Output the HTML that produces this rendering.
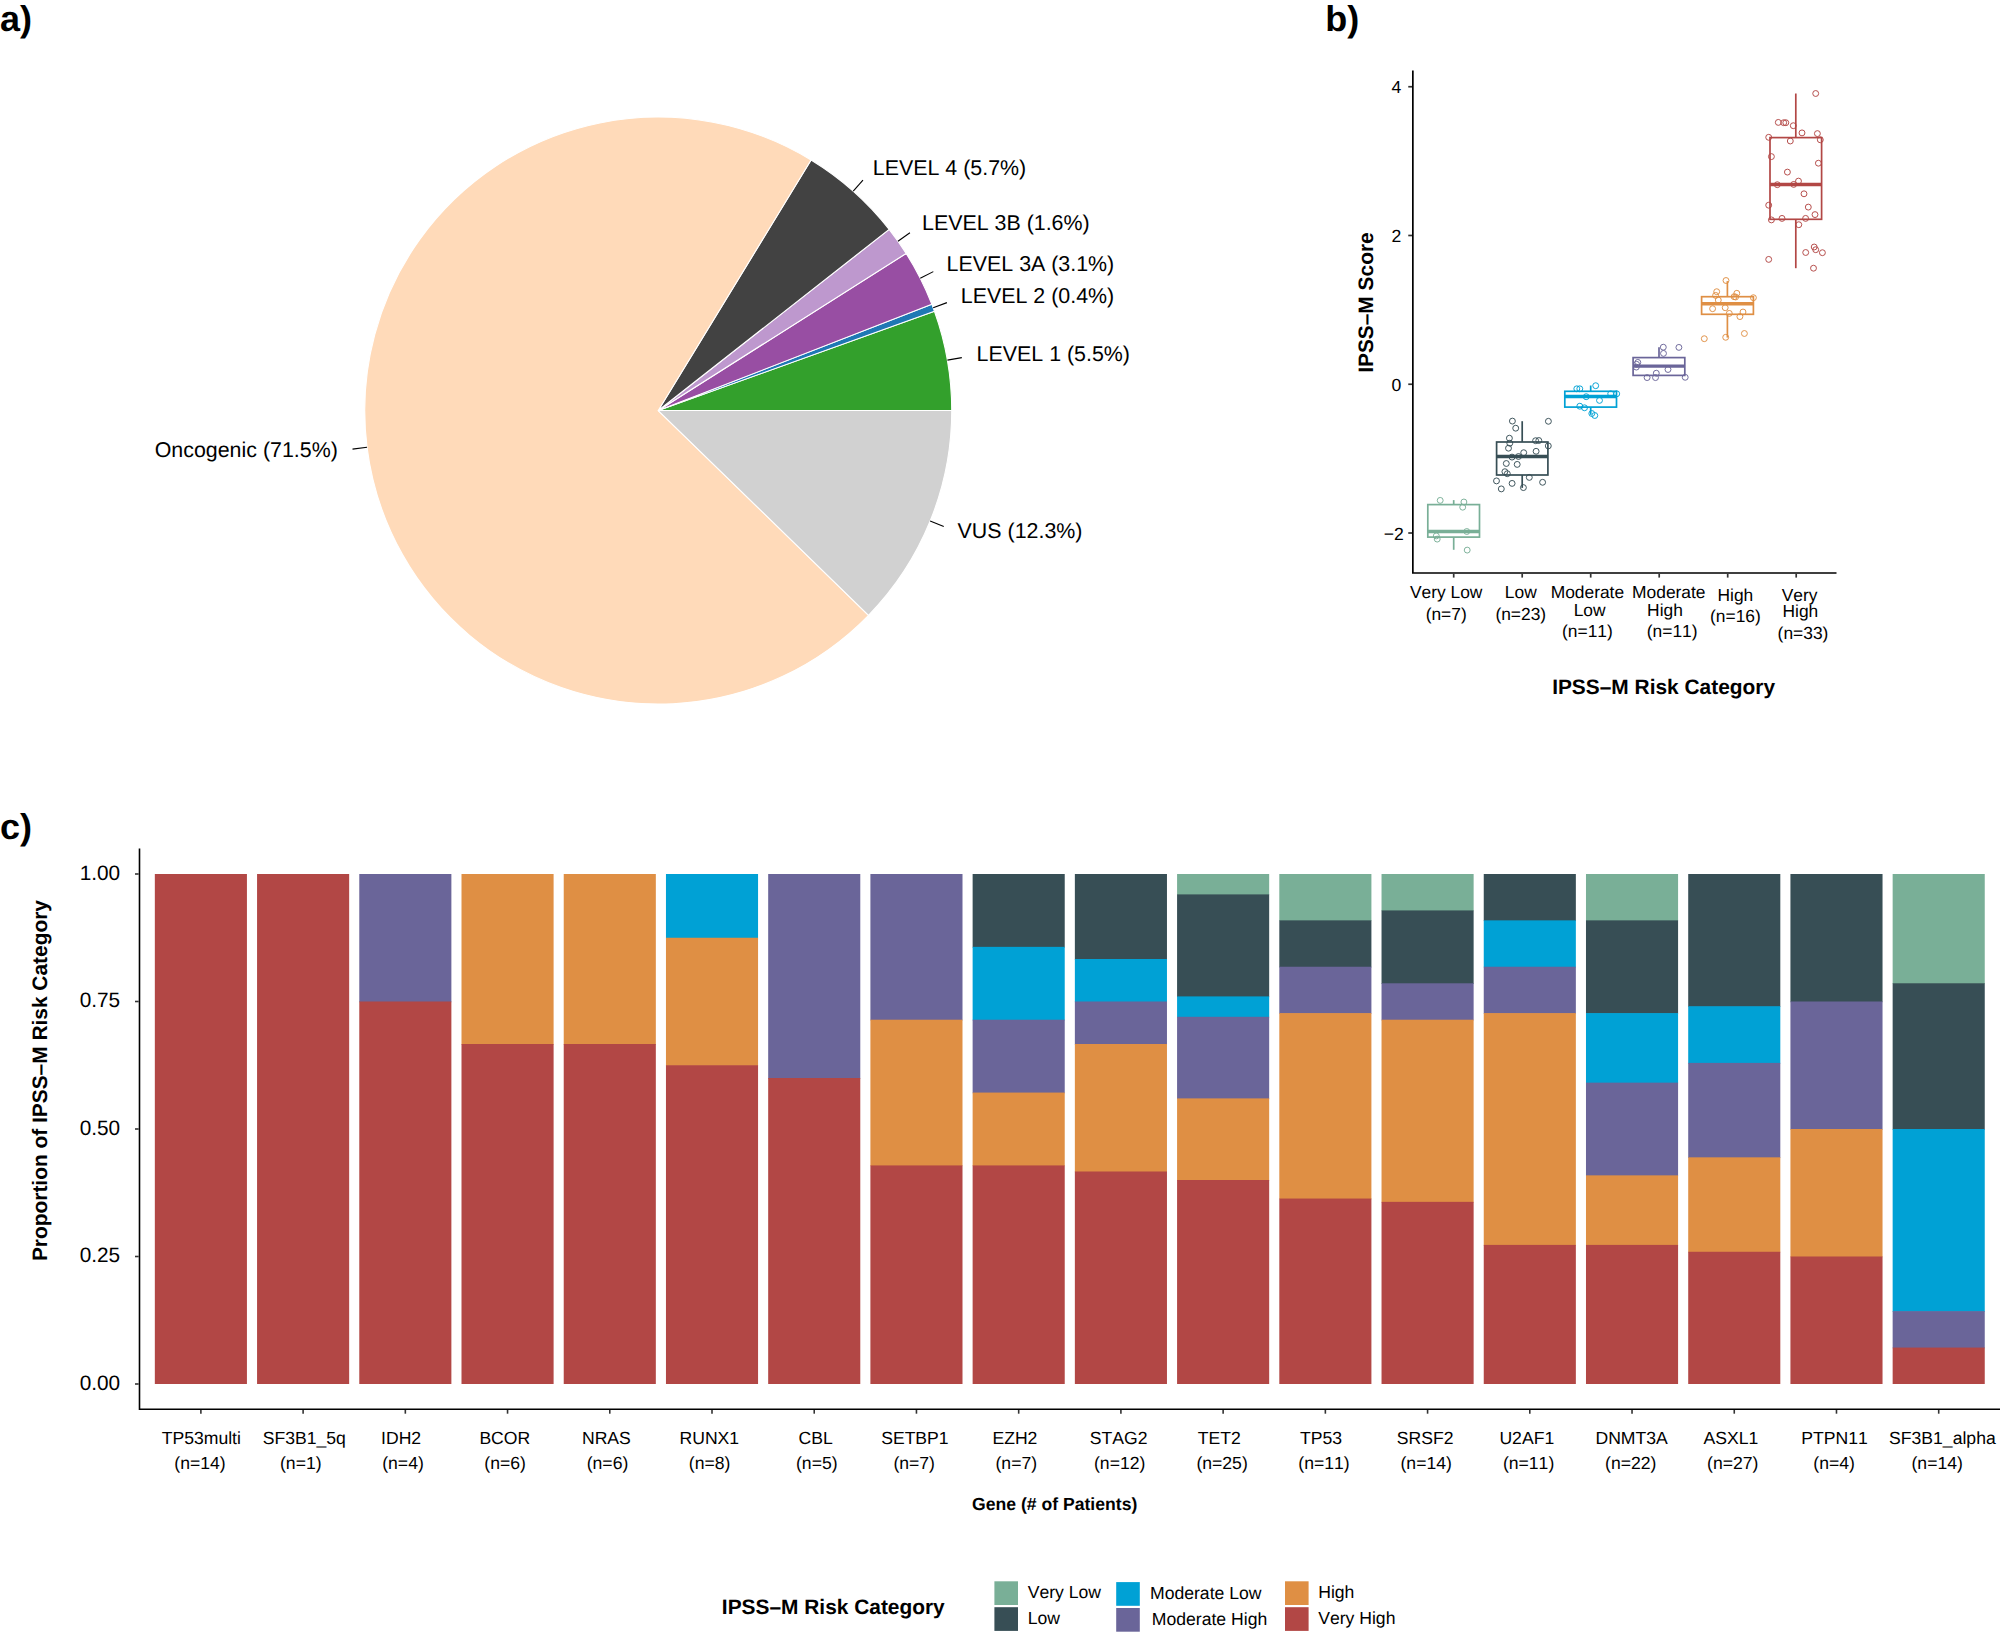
<!DOCTYPE html>
<html lang="en"><head><meta charset="utf-8"><title>Figure</title>
<style>
html,body{margin:0;padding:0;background:#fff;}
body{width:2000px;height:1640px;overflow:hidden;}
svg{display:block;font-family:"Liberation Sans", sans-serif;fill:#000;font-kerning:none;text-rendering:geometricPrecision;}
</style></head><body>
<svg width="2000" height="1640" viewBox="0 0 2000 1640">
<rect x="0" y="0" width="2000" height="1640" fill="#fff"/>
<text x="0" y="30.75" font-size="36" font-weight="bold">a)</text>
<text x="1325.3" y="30.75" font-size="36" font-weight="bold">b)</text>
<text x="0" y="838.75" font-size="36" font-weight="bold">c)</text>
<g stroke="#fff" stroke-width="1.1" stroke-linejoin="round">
<path d="M658.25,410.55L951.75,410.55A293.5,293.5 0 0 0 934.43,311.23Z" fill="#33A02C"/>
<path d="M658.25,410.55L934.43,311.23A293.5,293.5 0 0 0 931.85,304.32Z" fill="#1F78B4"/>
<path d="M658.25,410.55L931.85,304.32A293.5,293.5 0 0 0 906.15,253.42Z" fill="#984EA3"/>
<path d="M658.25,410.55L906.15,253.42A293.5,293.5 0 0 0 889.15,229.36Z" fill="#BE98CE"/>
<path d="M658.25,410.55L889.15,229.36A293.5,293.5 0 0 0 811.07,159.98Z" fill="#424242"/>
<path d="M658.25,410.55L811.07,159.98A293.5,293.5 0 1 0 868.54,615.30Z" fill="#FFDAB9"/>
<path d="M658.25,410.55L868.54,615.30A293.5,293.5 0 0 0 951.75,410.55Z" fill="#D1D1D1"/>
</g>
<g stroke="#000" stroke-width="1.1">
<line x1="947.39" y1="360.14" x2="961.85" y2="357.62"/>
<line x1="933.16" y1="307.77" x2="946.91" y2="302.63"/>
<line x1="920.24" y1="278.25" x2="933.34" y2="271.63"/>
<line x1="897.95" y1="241.18" x2="909.93" y2="232.71"/>
<line x1="853.22" y1="191.17" x2="862.97" y2="180.20"/>
<line x1="367.06" y1="447.30" x2="352.50" y2="449.14"/>
<line x1="930.15" y1="521.06" x2="943.75" y2="526.58"/>
</g>
<g font-size="21.4">
<text x="976.6" y="361.2" text-anchor="start">LEVEL 1 (5.5%)</text>
<text x="960.8" y="303.1" text-anchor="start">LEVEL 2 (0.4%)</text>
<text x="946.6" y="271.1" text-anchor="start">LEVEL 3A (3.1%)</text>
<text x="922.0" y="230.1" text-anchor="start">LEVEL 3B (1.6%)</text>
<text x="872.8" y="174.9" text-anchor="start">LEVEL 4 (5.7%)</text>
<text x="337.8" y="456.8" text-anchor="end">Oncogenic (71.5%)</text>
<text x="957.6" y="538.3" text-anchor="start">VUS (12.3%)</text>
</g>
<path d="M1412.85,70.5V573.0H1836.5" fill="none" stroke="#000" stroke-width="1.7" stroke-linejoin="miter"/>
<g stroke="#333" stroke-width="1.7">
<line x1="1408.25" x2="1412.05" y1="86.73" y2="86.73"/>
<line x1="1408.25" x2="1412.05" y1="235.49" y2="235.49"/>
<line x1="1408.25" x2="1412.05" y1="384.25" y2="384.25"/>
<line x1="1408.25" x2="1412.05" y1="533.01" y2="533.01"/>
<line x1="1453.7" x2="1453.7" y1="573.8" y2="577.6"/>
<line x1="1522.2" x2="1522.2" y1="573.8" y2="577.6"/>
<line x1="1590.7" x2="1590.7" y1="573.8" y2="577.6"/>
<line x1="1659.2" x2="1659.2" y1="573.8" y2="577.6"/>
<line x1="1727.7" x2="1727.7" y1="573.8" y2="577.6"/>
<line x1="1796.2" x2="1796.2" y1="573.8" y2="577.6"/>
</g>
<g font-size="17.6" text-anchor="end">
<text x="1401.2" y="93.33">4</text>
<text x="1401.2" y="242.09">2</text>
<text x="1401.2" y="390.85">0</text>
<text x="1403.7" y="539.61">−2</text>
</g>
<text transform="translate(1372.9,302.6) rotate(-90)" text-anchor="middle" font-size="20.9" font-weight="bold">IPSS–M Score</text>
<text x="1663.6" y="693.8" text-anchor="middle" font-size="20.9" font-weight="bold">IPSS–M Risk Category</text>
<g stroke="#79AF97" fill="none" stroke-width="1.7">
<line x1="1453.7" x2="1453.7" y1="500.1" y2="504.6"/>
<line x1="1453.7" x2="1453.7" y1="537.1" y2="549.8"/>
<rect x="1427.8" y="504.6" width="51.70" height="32.50"/>
<line x1="1427.8" x2="1479.5" y1="531.5" y2="531.5" stroke-width="3.4"/>
<g stroke-width="0.95">
<circle cx="1440.2" cy="500.4" r="2.95"/>
<circle cx="1463.9" cy="502" r="2.95"/>
<circle cx="1462.7" cy="507.2" r="2.95"/>
<circle cx="1466.8" cy="531.5" r="2.95"/>
<circle cx="1436.3" cy="535.9" r="2.95"/>
<circle cx="1437.2" cy="539.1" r="2.95"/>
<circle cx="1467.2" cy="550.1" r="2.95"/>
</g></g>
<g stroke="#374E55" fill="none" stroke-width="1.7">
<line x1="1522.2" x2="1522.2" y1="421.2" y2="442.0"/>
<line x1="1522.2" x2="1522.2" y1="475.0" y2="487.9"/>
<rect x="1496.6" y="442.0" width="51.30" height="33.00"/>
<line x1="1496.6" x2="1547.9" y1="456.5" y2="456.5" stroke-width="3.4"/>
<g stroke-width="0.95">
<circle cx="1512.4" cy="421.1" r="2.95"/>
<circle cx="1548.4" cy="421.3" r="2.95"/>
<circle cx="1515.7" cy="428.2" r="2.95"/>
<circle cx="1509.4" cy="438.2" r="2.95"/>
<circle cx="1535.6" cy="440.7" r="2.95"/>
<circle cx="1538.8" cy="440.5" r="2.95"/>
<circle cx="1509.8" cy="443.2" r="2.95"/>
<circle cx="1548.3" cy="445.9" r="2.95"/>
<circle cx="1508.5" cy="448.2" r="2.95"/>
<circle cx="1536.1" cy="451.3" r="2.95"/>
<circle cx="1523.7" cy="452.7" r="2.95"/>
<circle cx="1512" cy="457.1" r="2.95"/>
<circle cx="1518.5" cy="456.5" r="2.95"/>
<circle cx="1506.3" cy="463.5" r="2.95"/>
<circle cx="1517.2" cy="464.4" r="2.95"/>
<circle cx="1504.9" cy="471.7" r="2.95"/>
<circle cx="1507.3" cy="473.7" r="2.95"/>
<circle cx="1529.3" cy="477.4" r="2.95"/>
<circle cx="1496.5" cy="480.9" r="2.95"/>
<circle cx="1542.6" cy="482.3" r="2.95"/>
<circle cx="1512.1" cy="483.4" r="2.95"/>
<circle cx="1523.4" cy="487.6" r="2.95"/>
<circle cx="1501.3" cy="488.9" r="2.95"/>
</g></g>
<g stroke="#00A1D5" fill="none" stroke-width="1.7">
<line x1="1590.7" x2="1590.7" y1="385.5" y2="391.3"/>
<line x1="1590.7" x2="1590.7" y1="407.1" y2="414.8"/>
<rect x="1564.8" y="391.3" width="51.70" height="15.80"/>
<line x1="1564.8" x2="1616.5" y1="396.5" y2="396.5" stroke-width="3.4"/>
<g stroke-width="0.95">
<circle cx="1595.7" cy="385.7" r="2.95"/>
<circle cx="1576.8" cy="388.8" r="2.95"/>
<circle cx="1579.8" cy="388.8" r="2.95"/>
<circle cx="1610.7" cy="393.8" r="2.95"/>
<circle cx="1616.7" cy="393.8" r="2.95"/>
<circle cx="1586.2" cy="396.7" r="2.95"/>
<circle cx="1599.5" cy="400.4" r="2.95"/>
<circle cx="1579.8" cy="406.2" r="2.95"/>
<circle cx="1584.5" cy="407.8" r="2.95"/>
<circle cx="1591.8" cy="413.5" r="2.95"/>
<circle cx="1594.8" cy="415.5" r="2.95"/>
</g></g>
<g stroke="#6A6599" fill="none" stroke-width="1.7">
<line x1="1659.0" x2="1659.0" y1="347.3" y2="357.6"/>
<rect x="1633.1" y="357.6" width="51.70" height="17.80"/>
<line x1="1633.1" x2="1684.8" y1="366.1" y2="366.1" stroke-width="3.4"/>
<g stroke-width="0.95">
<circle cx="1663.3" cy="347.2" r="2.95"/>
<circle cx="1678.9" cy="347.4" r="2.95"/>
<circle cx="1663.5" cy="353.4" r="2.95"/>
<circle cx="1637.8" cy="362.4" r="2.95"/>
<circle cx="1636.6" cy="364.3" r="2.95"/>
<circle cx="1636.3" cy="367.1" r="2.95"/>
<circle cx="1668" cy="369.5" r="2.95"/>
<circle cx="1656.3" cy="373.2" r="2.95"/>
<circle cx="1647.1" cy="377.6" r="2.95"/>
<circle cx="1655.5" cy="377.6" r="2.95"/>
<circle cx="1685.2" cy="377.3" r="2.95"/>
</g></g>
<g stroke="#DF8F44" fill="none" stroke-width="1.7">
<line x1="1727.4" x2="1727.4" y1="281.1" y2="296.7"/>
<line x1="1727.4" x2="1727.4" y1="314.3" y2="337.6"/>
<rect x="1701.6" y="296.7" width="51.80" height="17.60"/>
<line x1="1701.6" x2="1753.4" y1="303.7" y2="303.7" stroke-width="3.4"/>
<g stroke-width="0.95">
<circle cx="1726" cy="280.5" r="2.95"/>
<circle cx="1716.7" cy="291.7" r="2.95"/>
<circle cx="1736.8" cy="293.3" r="2.95"/>
<circle cx="1715.6" cy="295.4" r="2.95"/>
<circle cx="1734.1" cy="296.7" r="2.95"/>
<circle cx="1735.6" cy="297" r="2.95"/>
<circle cx="1753.4" cy="297.7" r="2.95"/>
<circle cx="1718.3" cy="300.1" r="2.95"/>
<circle cx="1712.6" cy="308.7" r="2.95"/>
<circle cx="1725.2" cy="307.7" r="2.95"/>
<circle cx="1743" cy="312" r="2.95"/>
<circle cx="1729.3" cy="313.4" r="2.95"/>
<circle cx="1739.9" cy="316.6" r="2.95"/>
<circle cx="1744.4" cy="333.5" r="2.95"/>
<circle cx="1725.7" cy="337.3" r="2.95"/>
<circle cx="1704.3" cy="338.7" r="2.95"/>
</g></g>
<g stroke="#B24745" fill="none" stroke-width="1.7">
<line x1="1795.8" x2="1795.8" y1="93.5" y2="137.6"/>
<line x1="1795.8" x2="1795.8" y1="219.3" y2="268.2"/>
<rect x="1770.0" y="137.6" width="51.60" height="81.70"/>
<line x1="1770.0" x2="1821.6" y1="184.5" y2="184.5" stroke-width="3.4"/>
<g stroke-width="0.95">
<circle cx="1815.7" cy="93.5" r="2.95"/>
<circle cx="1778.3" cy="122.4" r="2.95"/>
<circle cx="1783.7" cy="122.7" r="2.95"/>
<circle cx="1785.8" cy="122.7" r="2.95"/>
<circle cx="1793.3" cy="125.7" r="2.95"/>
<circle cx="1802" cy="132.9" r="2.95"/>
<circle cx="1817.4" cy="133.6" r="2.95"/>
<circle cx="1768.7" cy="137.3" r="2.95"/>
<circle cx="1790.3" cy="141" r="2.95"/>
<circle cx="1820.3" cy="139.8" r="2.95"/>
<circle cx="1771.4" cy="156.6" r="2.95"/>
<circle cx="1818.4" cy="163.2" r="2.95"/>
<circle cx="1787.4" cy="172.1" r="2.95"/>
<circle cx="1798.5" cy="181.1" r="2.95"/>
<circle cx="1777.3" cy="184.7" r="2.95"/>
<circle cx="1793.7" cy="184.4" r="2.95"/>
<circle cx="1804" cy="193.8" r="2.95"/>
<circle cx="1768.7" cy="205.2" r="2.95"/>
<circle cx="1808.3" cy="207.1" r="2.95"/>
<circle cx="1815" cy="214.6" r="2.95"/>
<circle cx="1771.4" cy="219.9" r="2.95"/>
<circle cx="1782" cy="218.4" r="2.95"/>
<circle cx="1805.6" cy="218.4" r="2.95"/>
<circle cx="1798.8" cy="224.7" r="2.95"/>
<circle cx="1814.2" cy="247" r="2.95"/>
<circle cx="1815.7" cy="249.7" r="2.95"/>
<circle cx="1805.7" cy="252.5" r="2.95"/>
<circle cx="1822.4" cy="252.7" r="2.95"/>
<circle cx="1768.7" cy="259.4" r="2.95"/>
<circle cx="1813.5" cy="268.2" r="2.95"/>
</g></g>
<g font-size="17.4" text-anchor="middle">
<text x="1446.2" y="598">Very Low</text>
<text x="1446.2" y="619.5">(n=7)</text>
<text x="1520.8" y="598">Low</text>
<text x="1520.8" y="619.5">(n=23)</text>
<text x="1587.4" y="598">Moderate</text>
<text x="1589.6" y="615.5">Low</text>
<text x="1587.4" y="637">(n=11)</text>
<text x="1668.8" y="598">Moderate</text>
<text x="1665.0" y="615.5">High</text>
<text x="1672.2" y="637">(n=11)</text>
<text x="1735.4" y="600.5">High</text>
<text x="1735.4" y="622">(n=16)</text>
<text x="1799.6" y="600.5">Very</text>
<text x="1800.4" y="617">High</text>
<text x="1803.0" y="639">(n=33)</text>
</g>
<path d="M139.5,848.6V1409.2H2000" fill="none" stroke="#000" stroke-width="1.6"/>
<g shape-rendering="auto">
<rect x="154.83" y="874.00" width="92.1" height="510.00" fill="#B24745"/>
<rect x="257.06" y="874.00" width="92.1" height="510.00" fill="#B24745"/>
<rect x="359.28" y="874.00" width="92.1" height="128.20" fill="#6A6599"/>
<rect x="359.28" y="1001.50" width="92.1" height="382.50" fill="#B24745"/>
<rect x="461.50" y="874.00" width="92.1" height="170.70" fill="#DF8F44"/>
<rect x="461.50" y="1044.00" width="92.1" height="340.00" fill="#B24745"/>
<rect x="563.73" y="874.00" width="92.1" height="170.70" fill="#DF8F44"/>
<rect x="563.73" y="1044.00" width="92.1" height="340.00" fill="#B24745"/>
<rect x="665.96" y="874.00" width="92.1" height="64.45" fill="#00A1D5"/>
<rect x="665.96" y="937.75" width="92.1" height="128.20" fill="#DF8F44"/>
<rect x="665.96" y="1065.25" width="92.1" height="318.75" fill="#B24745"/>
<rect x="768.18" y="874.00" width="92.1" height="204.70" fill="#6A6599"/>
<rect x="768.18" y="1078.00" width="92.1" height="306.00" fill="#B24745"/>
<rect x="870.40" y="874.00" width="92.1" height="146.41" fill="#6A6599"/>
<rect x="870.40" y="1019.71" width="92.1" height="146.41" fill="#DF8F44"/>
<rect x="870.40" y="1165.43" width="92.1" height="218.57" fill="#B24745"/>
<rect x="972.63" y="874.00" width="92.1" height="73.56" fill="#374E55"/>
<rect x="972.63" y="946.86" width="92.1" height="73.56" fill="#00A1D5"/>
<rect x="972.63" y="1019.71" width="92.1" height="73.56" fill="#6A6599"/>
<rect x="972.63" y="1092.57" width="92.1" height="73.56" fill="#DF8F44"/>
<rect x="972.63" y="1165.43" width="92.1" height="218.57" fill="#B24745"/>
<rect x="1074.86" y="874.00" width="92.1" height="85.70" fill="#374E55"/>
<rect x="1074.86" y="959.00" width="92.1" height="43.20" fill="#00A1D5"/>
<rect x="1074.86" y="1001.50" width="92.1" height="43.20" fill="#6A6599"/>
<rect x="1074.86" y="1044.00" width="92.1" height="128.20" fill="#DF8F44"/>
<rect x="1074.86" y="1171.50" width="92.1" height="212.50" fill="#B24745"/>
<rect x="1177.08" y="874.00" width="92.1" height="21.10" fill="#79AF97"/>
<rect x="1177.08" y="894.40" width="92.1" height="102.70" fill="#374E55"/>
<rect x="1177.08" y="996.40" width="92.1" height="21.10" fill="#00A1D5"/>
<rect x="1177.08" y="1016.80" width="92.1" height="82.30" fill="#6A6599"/>
<rect x="1177.08" y="1098.40" width="92.1" height="82.30" fill="#DF8F44"/>
<rect x="1177.08" y="1180.00" width="92.1" height="204.00" fill="#B24745"/>
<rect x="1279.31" y="874.00" width="92.1" height="47.06" fill="#79AF97"/>
<rect x="1279.31" y="920.36" width="92.1" height="47.06" fill="#374E55"/>
<rect x="1279.31" y="966.73" width="92.1" height="47.06" fill="#6A6599"/>
<rect x="1279.31" y="1013.09" width="92.1" height="186.15" fill="#DF8F44"/>
<rect x="1279.31" y="1198.55" width="92.1" height="185.45" fill="#B24745"/>
<rect x="1381.53" y="874.00" width="92.1" height="37.13" fill="#79AF97"/>
<rect x="1381.53" y="910.43" width="92.1" height="73.56" fill="#374E55"/>
<rect x="1381.53" y="983.29" width="92.1" height="37.13" fill="#6A6599"/>
<rect x="1381.53" y="1019.71" width="92.1" height="182.84" fill="#DF8F44"/>
<rect x="1381.53" y="1201.86" width="92.1" height="182.14" fill="#B24745"/>
<rect x="1483.75" y="874.00" width="92.1" height="47.06" fill="#374E55"/>
<rect x="1483.75" y="920.36" width="92.1" height="47.06" fill="#00A1D5"/>
<rect x="1483.75" y="966.73" width="92.1" height="47.06" fill="#6A6599"/>
<rect x="1483.75" y="1013.09" width="92.1" height="232.52" fill="#DF8F44"/>
<rect x="1483.75" y="1244.91" width="92.1" height="139.09" fill="#B24745"/>
<rect x="1585.98" y="874.00" width="92.1" height="47.06" fill="#79AF97"/>
<rect x="1585.98" y="920.36" width="92.1" height="93.43" fill="#374E55"/>
<rect x="1585.98" y="1013.09" width="92.1" height="70.25" fill="#00A1D5"/>
<rect x="1585.98" y="1082.64" width="92.1" height="93.43" fill="#6A6599"/>
<rect x="1585.98" y="1175.36" width="92.1" height="70.25" fill="#DF8F44"/>
<rect x="1585.98" y="1244.91" width="92.1" height="139.09" fill="#B24745"/>
<rect x="1688.21" y="874.00" width="92.1" height="132.92" fill="#374E55"/>
<rect x="1688.21" y="1006.22" width="92.1" height="57.37" fill="#00A1D5"/>
<rect x="1688.21" y="1062.89" width="92.1" height="95.14" fill="#6A6599"/>
<rect x="1688.21" y="1157.33" width="92.1" height="95.14" fill="#DF8F44"/>
<rect x="1688.21" y="1251.78" width="92.1" height="132.22" fill="#B24745"/>
<rect x="1790.43" y="874.00" width="92.1" height="128.20" fill="#374E55"/>
<rect x="1790.43" y="1001.50" width="92.1" height="128.20" fill="#6A6599"/>
<rect x="1790.43" y="1129.00" width="92.1" height="128.20" fill="#DF8F44"/>
<rect x="1790.43" y="1256.50" width="92.1" height="127.50" fill="#B24745"/>
<rect x="1892.65" y="874.00" width="92.1" height="109.99" fill="#79AF97"/>
<rect x="1892.65" y="983.29" width="92.1" height="146.41" fill="#374E55"/>
<rect x="1892.65" y="1129.00" width="92.1" height="182.84" fill="#00A1D5"/>
<rect x="1892.65" y="1311.14" width="92.1" height="37.13" fill="#6A6599"/>
<rect x="1892.65" y="1347.57" width="92.1" height="36.43" fill="#B24745"/>
</g>
<g stroke="#333" stroke-width="1.6">
<line x1="135.0" x2="138.7" y1="1384.00" y2="1384.00"/>
<line x1="135.0" x2="138.7" y1="1256.50" y2="1256.50"/>
<line x1="135.0" x2="138.7" y1="1129.00" y2="1129.00"/>
<line x1="135.0" x2="138.7" y1="1001.50" y2="1001.50"/>
<line x1="135.0" x2="138.7" y1="874.00" y2="874.00"/>
<line x1="200.88" x2="200.88" y1="1410.0" y2="1413.7"/>
<line x1="303.11" x2="303.11" y1="1410.0" y2="1413.7"/>
<line x1="405.33" x2="405.33" y1="1410.0" y2="1413.7"/>
<line x1="507.55" x2="507.55" y1="1410.0" y2="1413.7"/>
<line x1="609.78" x2="609.78" y1="1410.0" y2="1413.7"/>
<line x1="712.00" x2="712.00" y1="1410.0" y2="1413.7"/>
<line x1="814.23" x2="814.23" y1="1410.0" y2="1413.7"/>
<line x1="916.45" x2="916.45" y1="1410.0" y2="1413.7"/>
<line x1="1018.68" x2="1018.68" y1="1410.0" y2="1413.7"/>
<line x1="1120.90" x2="1120.90" y1="1410.0" y2="1413.7"/>
<line x1="1223.13" x2="1223.13" y1="1410.0" y2="1413.7"/>
<line x1="1325.36" x2="1325.36" y1="1410.0" y2="1413.7"/>
<line x1="1427.58" x2="1427.58" y1="1410.0" y2="1413.7"/>
<line x1="1529.80" x2="1529.80" y1="1410.0" y2="1413.7"/>
<line x1="1632.03" x2="1632.03" y1="1410.0" y2="1413.7"/>
<line x1="1734.26" x2="1734.26" y1="1410.0" y2="1413.7"/>
<line x1="1836.48" x2="1836.48" y1="1410.0" y2="1413.7"/>
<line x1="1938.70" x2="1938.70" y1="1410.0" y2="1413.7"/>
</g>
<g font-size="20.8" text-anchor="end">
<text x="120.2" y="1389.90">0.00</text>
<text x="120.2" y="1262.40">0.25</text>
<text x="120.2" y="1134.90">0.50</text>
<text x="120.2" y="1007.40">0.75</text>
<text x="120.2" y="879.90">1.00</text>
</g>
<text transform="translate(46.8,1080.6) rotate(-90)" text-anchor="middle" font-size="20.9" font-weight="bold">Proportion of IPSS–M Risk Category</text>
<g font-size="17.6" text-anchor="middle">
<text x="201.3" y="1443.6">TP53multi</text>
<text x="200.0" y="1469.2">(n=14)</text>
<text x="304.3" y="1443.6">SF3B1_5q</text>
<text x="300.8" y="1469.2">(n=1)</text>
<text x="401.1" y="1443.6">IDH2</text>
<text x="403.0" y="1469.2">(n=4)</text>
<text x="504.8" y="1443.6">BCOR</text>
<text x="505.1" y="1469.2">(n=6)</text>
<text x="606.4" y="1443.6">NRAS</text>
<text x="607.5" y="1469.2">(n=6)</text>
<text x="709.3" y="1443.6">RUNX1</text>
<text x="709.6" y="1469.2">(n=8)</text>
<text x="815.7" y="1443.6">CBL</text>
<text x="816.8" y="1469.2">(n=5)</text>
<text x="914.9" y="1443.6">SETBP1</text>
<text x="914.2" y="1469.2">(n=7)</text>
<text x="1014.9" y="1443.6">EZH2</text>
<text x="1016.3" y="1469.2">(n=7)</text>
<text x="1118.6" y="1443.6">STAG2</text>
<text x="1119.7" y="1469.2">(n=12)</text>
<text x="1219.2" y="1443.6">TET2</text>
<text x="1222.1" y="1469.2">(n=25)</text>
<text x="1321.0" y="1443.6">TP53</text>
<text x="1324.0" y="1469.2">(n=11)</text>
<text x="1425.1" y="1443.6">SRSF2</text>
<text x="1426.2" y="1469.2">(n=14)</text>
<text x="1526.8" y="1443.6">U2AF1</text>
<text x="1528.6" y="1469.2">(n=11)</text>
<text x="1631.6" y="1443.6">DNMT3A</text>
<text x="1630.8" y="1469.2">(n=22)</text>
<text x="1731.0" y="1443.6">ASXL1</text>
<text x="1732.8" y="1469.2">(n=27)</text>
<text x="1834.6" y="1443.6">PTPN11</text>
<text x="1834.1" y="1469.2">(n=4)</text>
<text x="1942.4" y="1443.6">SF3B1_alpha</text>
<text x="1937.2" y="1469.2">(n=14)</text>
</g>
<text x="1054.7" y="1509.6" text-anchor="middle" font-size="17.6" font-weight="bold">Gene (# of Patients)</text>
<text x="833.3" y="1614.2" text-anchor="middle" font-size="20.9" font-weight="bold">IPSS–M Risk Category</text>
<rect x="994.4" y="1581.3" width="23.6" height="23.7" fill="#79AF97"/>
<text x="1027.7" y="1597.8" font-size="17.6">Very Low</text>
<rect x="994.4" y="1607.2" width="23.6" height="23.7" fill="#374E55"/>
<text x="1027.7" y="1624.1" font-size="17.6">Low</text>
<rect x="1116.2" y="1582.1" width="23.6" height="23.7" fill="#00A1D5"/>
<text x="1150.0" y="1598.9" font-size="17.6">Moderate Low</text>
<rect x="1116.2" y="1608.0" width="23.6" height="23.7" fill="#6A6599"/>
<text x="1151.8" y="1624.8" font-size="17.6">Moderate High</text>
<rect x="1285.0" y="1581.3" width="23.6" height="23.7" fill="#DF8F44"/>
<text x="1318.2" y="1597.8" font-size="17.6">High</text>
<rect x="1285.0" y="1607.2" width="23.6" height="23.7" fill="#B24745"/>
<text x="1318.2" y="1624.1" font-size="17.6">Very High</text>
</svg>
</body></html>
